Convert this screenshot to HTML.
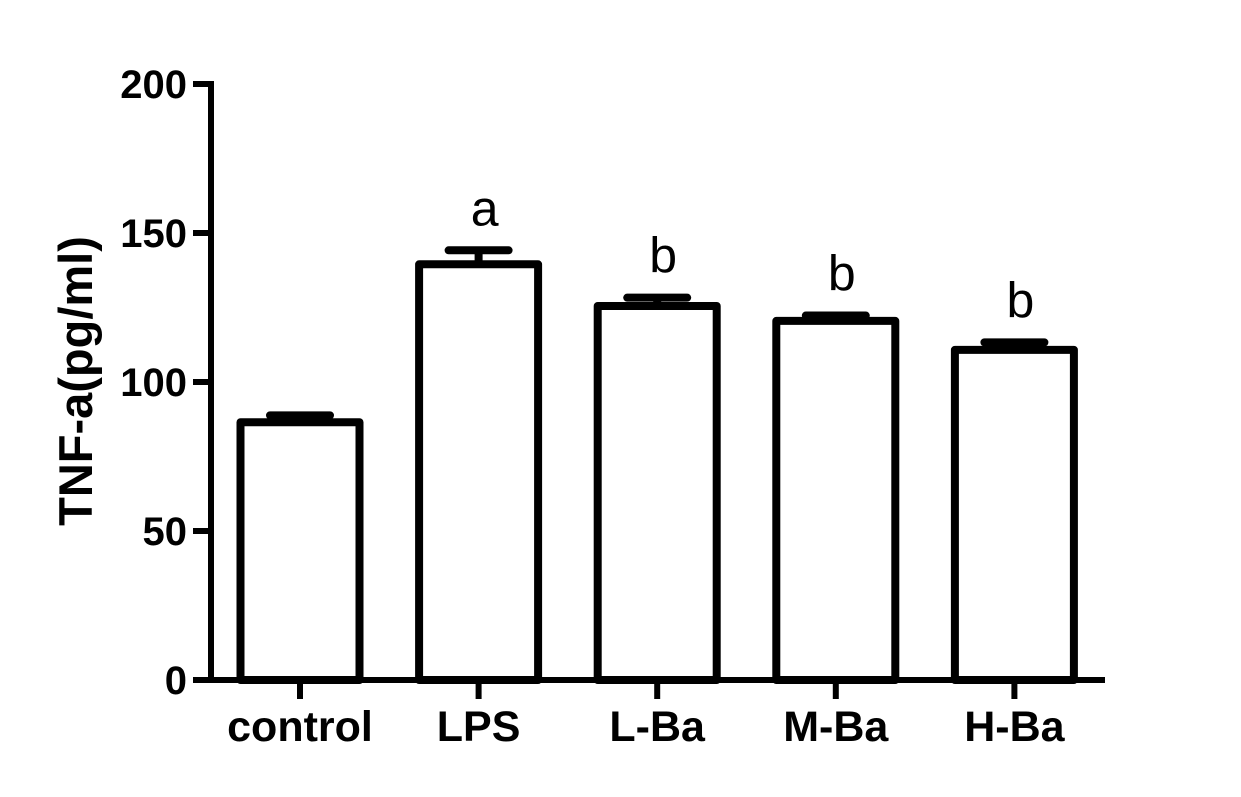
<!DOCTYPE html>
<html><head><meta charset="utf-8"><style>
html,body{margin:0;padding:0;background:#fff;}
svg text{font-family:"Liberation Sans",Arial,sans-serif;fill:#000;}
</style></head><body>
<svg id="chart" width="1241" height="792" viewBox="0 0 1241 792" xmlns="http://www.w3.org/2000/svg">
<rect width="1241" height="792" fill="#fff"/>
<g id="plot"></g>
</svg>
<script>
const categories = ["control","LPS","L-Ba","M-Ba","H-Ba"];
const means = [86.5, 139.5, 125.5, 120.5, 110.8];
const errors = [2.3, 4.7, 2.8, 1.8, 2.5];
const sigLabels = ["", "a", "b", "b", "b"];
const yTicks = [0, 50, 100, 150, 200];

const NS = "http://www.w3.org/2000/svg";
const g = document.getElementById('plot');
const y0 = 680, yTop = 84, yMax = 200;
const xAxisX = 211;
function yScale(v){ return y0 - (v / yMax) * (y0 - yTop); }
function xCenter(i){ return 300 + i * 178.6; }
const barW = 119;
function mk(tag, attrs){ const e = document.createElementNS(NS, tag); for (const k in attrs) e.setAttribute(k, attrs[k]); g.appendChild(e); return e; }

categories.forEach((c, i) => {
  const cx = xCenter(i), top = yScale(means[i]), et = yScale(means[i] + errors[i]);
  const eb = mk('line', {x1:cx, x2:cx, y1:top, y2:et, stroke:'#000', 'stroke-width':8});
  
  
  const cap = mk('line', {x1:cx-30, x2:cx+30, y1:et, y2:et, stroke:'#000', 'stroke-width':8, 'stroke-linecap':'round'});
  
  
  const b = mk('rect', {x:cx-barW/2, y:top, width:barW, height:y0-top, fill:'#fff', stroke:'#000', 'stroke-width':8, 'stroke-linejoin':'round'});
  
  
  const t = mk('line', {x1:cx, x2:cx, y1:y0, y2:y0+19, stroke:'#000', 'stroke-width':6});
  
  
  const lbl = mk('text', {x:cx, y:741, 'font-size':43, 'font-weight':'bold', 'text-anchor':'middle'});
  lbl.textContent = c;
  
  
  if (sigLabels[i]) {
    const s = mk('text', {x:cx+6, y:et-25, 'font-size':50, 'text-anchor':'middle'});
    s.textContent = sigLabels[i];
    
    
  }
});

const xa = mk('line', {x1:193, x2:1105, y1:y0, y2:y0, stroke:'#000', 'stroke-width':6});


const ya = mk('line', {x1:xAxisX, x2:xAxisX, y1:yTop-3, y2:y0+3, stroke:'#000', 'stroke-width':6});


yTicks.forEach(v => {
  const yy = yScale(v);
  const t = mk('line', {x1:193, x2:xAxisX, y1:yy, y2:yy, stroke:'#000', 'stroke-width':6});
  
  
  const l = mk('text', {x:187, y:yy+14, 'font-size':40, 'font-weight':'bold', 'text-anchor':'end'});
  l.textContent = v;
  
  
});
const yt = mk('text', {x:0, y:0, 'font-size':47, 'font-weight':'bold', 'text-anchor':'middle', transform:'translate(92,381) rotate(-90)'});
yt.textContent = 'TNF-a(pg/ml)';


</script>
</body></html>
